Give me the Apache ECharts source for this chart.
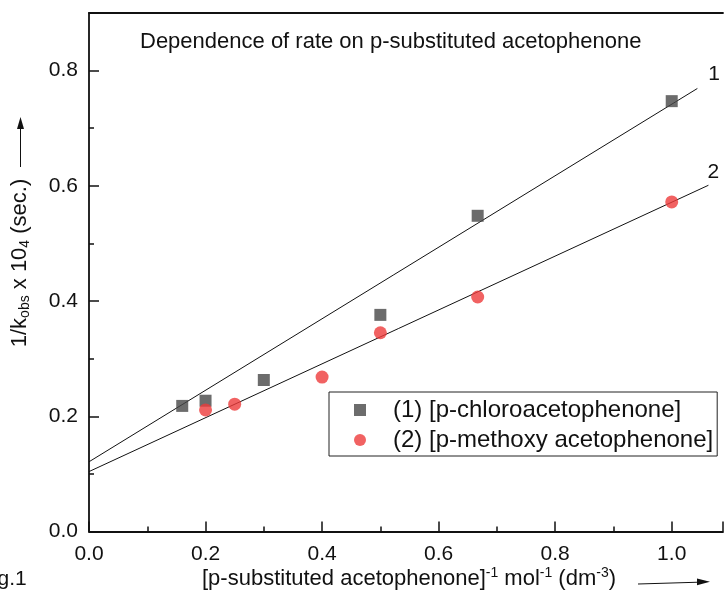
<!DOCTYPE html>
<html>
<head>
<meta charset="utf-8">
<script src="https://cdn.jsdelivr.net/npm/echarts@6/dist/echarts.min.js"></script>
<style>
  html, body { margin: 0; padding: 0; background: #fff; }
  #chart { width: 726px; height: 591px; }
</style>
</head>
<body>
<div id="chart"></div>
<script>
const chloroX = [0.16, 0.2, 0.3, 0.5, 0.667, 1.0]
const chloroY = [0.218, 0.227, 0.263, 0.376, 0.548, 0.747]
const methoxyX = [0.2, 0.25, 0.4, 0.5, 0.667, 1.0]
const methoxyY = [0.211, 0.221, 0.268, 0.345, 0.407, 0.572]

// fitted straight lines, end points as drawn
const fit1 = [[0, 0.121], [1.044, 0.769]]
const fit2 = [[0, 0.104], [1.063, 0.601]]

const xTicks = [0, 0.2, 0.4, 0.6, 0.8, 1.0]
const yTicks = [0, 0.2, 0.4, 0.6, 0.8]

const FONT = '"Liberation Sans", Arial, sans-serif'
const INK = '#111'

const chart = echarts.init(document.getElementById('chart'))

function zip(xs, ys) {
  return xs.map((x, i) => [x, ys[i]])
}

const axisLabel = { fontFamily: FONT, fontSize: 21, color: INK }
const tickFmt = (ticks) => (v) => (ticks.some((t) => Math.abs(t - v) < 1e-6) ? v.toFixed(1) : '')

function fitSeries(data, tag, offset) {
  return {
    type: 'line',
    data,
    symbol: 'none',
    showSymbol: false,
    silent: true,
    lineStyle: { color: INK, width: 1 },
    endLabel: {
      show: true,
      formatter: tag,
      distance: 0,
      offset,
      fontFamily: FONT,
      fontSize: 21,
      color: INK,
    },
    z: 1,
  }
}

chart.setOption({
  animation: false,
  grid: { left: 89, top: 13, right: 0, bottom: 59.5 },
  xAxis: [
    {
      type: 'value',
      min: 0,
      max: 1.088,
      interval: 0.2,
      splitLine: { show: false },
      axisLine: { onZero: false, lineStyle: { color: INK, width: 1.8 } },
      axisTick: { inside: true, length: 10, lineStyle: { color: INK, width: 1.5 } },
      minorTick: { show: true, splitNumber: 2, length: 5, lineStyle: { color: INK, width: 1.5 } },
      axisLabel: { ...axisLabel, margin: 12, formatter: tickFmt(xTicks) },
    },
    {
      type: 'value',
      position: 'top',
      min: 0,
      max: 1.088,
      splitLine: { show: false },
      axisLine: { show: true, onZero: false, lineStyle: { color: INK, width: 1.8 } },
      axisTick: { show: false },
      axisLabel: { show: false },
    },
  ],
  yAxis: {
    type: 'value',
    min: 0,
    max: 0.9,
    interval: 0.2,
    splitLine: { show: false },
    axisLine: { onZero: false, lineStyle: { color: INK, width: 1.8 } },
    axisTick: { inside: true, length: 10, lineStyle: { color: INK, width: 1.5 } },
    minorTick: { show: true, splitNumber: 2, length: 5, lineStyle: { color: INK, width: 1.5 } },
    axisLabel: { ...axisLabel, margin: 11, formatter: tickFmt(yTicks) },
  },
  legend: {
    orient: 'vertical',
    left: 329,
    top: 392,
    padding: [6, 4, 4, 25],
    itemGap: 6,
    itemWidth: 12,
    itemHeight: 12,
    borderColor: '#222',
    borderWidth: 1,
    textStyle: { fontFamily: FONT, fontSize: 24, color: INK, lineHeight: 24, padding: [0, 0, 0, 22] },
    data: ['(1) [p-chloroacetophenone]', '(2) [p-methoxy acetophenone]'],
  },
  series: [
    fitSeries(fit1, '1', [11, -14]),
    fitSeries(fit2, '2', [-1, -13]),
    {
      name: '(1) [p-chloroacetophenone]',
      type: 'scatter',
      data: zip(chloroX, chloroY),
      symbol: 'rect',
      symbolSize: 12,
      itemStyle: { color: '#474747' },
      z: 3,
    },
    {
      name: '(2) [p-methoxy acetophenone]',
      type: 'scatter',
      data: zip(methoxyX, methoxyY),
      symbol: 'circle',
      symbolSize: 13,
      itemStyle: { color: '#ee3b3b' },
      z: 3,
    },
  ],
  graphic: [
    {
      type: 'text',
      left: 140,
      top: 31,
      style: {
        text: 'Dependence of rate on p-substituted acetophenone',
        font: '22px ' + FONT,
        fill: INK,
      },
    },
    {
      type: 'text',
      x: 20,
      y: 263,
      rotation: Math.PI / 2,
      style: {
        text: '1/k{sub|obs} x 10{sub|4} (sec.)',
        font: '22px ' + FONT,
        fill: INK,
        align: 'center',
        verticalAlign: 'middle',
        rich: {
          sub: { fontSize: 14, fontFamily: FONT, fill: INK, padding: [11, 0, 0, 0] },
        },
      },
    },
    {
      type: 'line',
      shape: { x1: 20.5, y1: 167, x2: 20.5, y2: 128 },
      style: { stroke: INK, lineWidth: 1 },
    },
    {
      type: 'polygon',
      shape: { points: [[20.5, 117], [17, 129], [24, 129]] },
      style: { fill: INK },
    },
    {
      type: 'text',
      x: 409,
      y: 579,
      style: {
        text: '[p-substituted acetophenone]{sup|-1} mol{sup|-1} (dm{sup|-3})',
        font: '22px ' + FONT,
        fill: INK,
        align: 'center',
        verticalAlign: 'middle',
        rich: {
          sup: { fontSize: 14, fontFamily: FONT, fill: INK, padding: [0, 0, 11, 0] },
        },
      },
    },
    {
      type: 'line',
      shape: { x1: 638, y1: 584, x2: 699, y2: 582.2 },
      style: { stroke: INK, lineWidth: 1 },
    },
    {
      type: 'polygon',
      shape: { points: [[710, 581.8], [697, 578.6], [697, 585.2]] },
      style: { fill: INK },
    },
    {
      type: 'text',
      x: -20,
      y: 579,
      style: {
        text: 'Fig.1',
        font: '21px ' + FONT,
        fill: INK,
        verticalAlign: 'middle',
      },
    },
  ],
})

window.addEventListener('resize', () => chart.resize())
</script>
</body>
</html>
